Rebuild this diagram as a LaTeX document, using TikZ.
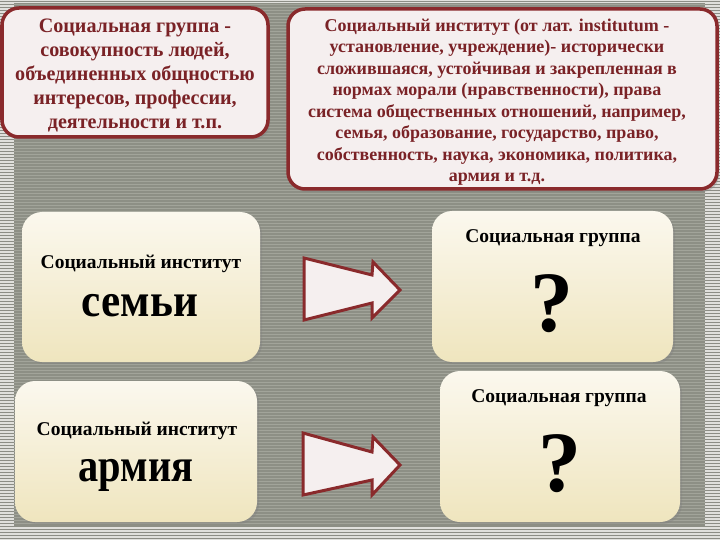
\documentclass[tikz,border=0pt]{standalone}
\usepackage{fontspec}
\setmainfont{Liberation Serif}
\usetikzlibrary{shadows}
\definecolor{bgmargin}{HTML}{E0E0DC}
\definecolor{bgstripe}{HTML}{8C8D85}
\definecolor{panel}{HTML}{8D8F85}
\definecolor{panelstripe}{HTML}{A2A49A}
\definecolor{wine}{HTML}{8A2A2C}
\definecolor{winetext}{HTML}{7A2226}
\definecolor{pinkfill}{HTML}{F5EFEF}
\definecolor{creamtop}{HTML}{FBF8EE}
\definecolor{creambot}{HTML}{EFE5BE}
\tikzset{
  defbox/.style={draw=wine, line width=3.5pt, fill=pinkfill, rounded corners=17pt,
    drop shadow={opacity=0.35, shadow xshift=2pt, shadow yshift=-3pt}},
  cream/.style={rounded corners=20pt, top color=creamtop, bottom color=creambot,
    drop shadow={opacity=0.35, shadow xshift=2pt, shadow yshift=-2pt}},
  deftext/.style={text=winetext, align=center, inner sep=0pt, font=\bfseries},
  small/.style={inner sep=0pt, anchor=base, font=\fontsize{19.5}{22}\selectfont\bfseries},
  big/.style={inner sep=0pt, anchor=base, font=\fontsize{47}{50}\selectfont\bfseries},
  qmark/.style={inner sep=0pt, anchor=base, font=\fontsize{86}{90}\selectfont\bfseries},
  blockarrow/.style={draw=wine, line width=3pt, fill=pinkfill, line join=miter}
}
\begin{document}
\begin{tikzpicture}[x=1pt, y=-1pt]
\useasboundingbox (0,0) rectangle (720,540);
% background
\fill[bgmargin] (0,0) rectangle (720,540);
\foreach \y in {1.5,4.5,...,540} \draw[bgstripe, line width=1.6pt] (0,\y) -- (720,\y);
\fill[panel] (14,3) rectangle (705,527);
\foreach \y in {4.5,7.5,...,526} \draw[panelstripe, line width=0.9pt] (14,\y) -- (705,\y);

% top boxes
\node[defbox, minimum width=266pt, minimum height=129pt] (grpdef) at (135,72.5) {};
\node[deftext, font=\fontsize{20.5}{24}\selectfont\bfseries, xscale=0.98] (grpdeftext) at (135,75)
  {Социальная группа -\\совокупность людей,\\объединенных общностью\\интересов, профессии,\\деятельности и т.п.};

\node[defbox, minimum width=429pt, minimum height=180pt] (instdef) at (502.5,99) {};
\node[deftext, font=\fontsize{18}{21.5}\selectfont\bfseries] (instdeftext) at (497,102)
  {Социальный институт (от лат. institutum -\\установление, учреждение)- исторически\\сложившаяся, устойчивая и закрепленная в\\нормах морали (нравственности), права\\система общественных отношений, например,\\семья, образование, государство, право,\\собственность, наука, экономика, политика,\\армия и т.д.};

% cream boxes
\node[cream, minimum width=238pt, minimum height=150pt] (fam) at (141,287) {};
\node[small] (famt) at (141,268) {Социальный институт};
\node[big, xscale=0.92] (famb) at (140,316) {семьи};

\node[cream, minimum width=241pt, minimum height=151pt] (grp1) at (552.5,286.5) {};
\node[small] (grp1t) at (553,242) {Социальная группа};
\node[qmark] (grp1q) at (552,331) {?};

\node[cream, minimum width=242pt, minimum height=141pt] (army) at (136,451.5) {};
\node[small] (armyt) at (137,435) {Социальный институт};
\node[big, xscale=0.86] (armyb) at (136,481) {армия};

\node[cream, minimum width=240pt, minimum height=151pt] (grp2) at (560,446.5) {};
\node[small] (grp2t) at (559,402) {Социальная группа};
\node[qmark] (grp2q) at (560,491) {?};

% block arrows
\draw[blockarrow] (304,258) -- (372,275) -- (373,262) -- (400,290) -- (372,318) -- (372,303) -- (304,320) -- cycle;
\draw[blockarrow] (303,433) -- (372,452) -- (373,437) -- (400,465) -- (372,495) -- (372,480) -- (303,495) -- cycle;
\end{tikzpicture}
\end{document}
